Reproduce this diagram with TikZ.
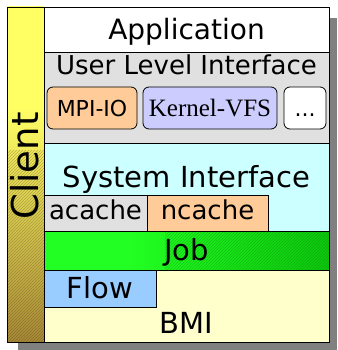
\documentclass[tikz,border=0pt]{standalone}
\usepackage{fontspec}
\setmainfont{DejaVu Sans}
\newfontfamily\kvfsfont{Liberation Serif}
\usetikzlibrary{patterns}

\definecolor{shadowgray}{RGB}{128,128,128}
\definecolor{uligray}{RGB}{224,224,224}
\definecolor{mpiorange}{RGB}{255,204,153}
\definecolor{vfsblue}{RGB}{204,204,255}
\definecolor{syscyan}{RGB}{204,255,255}
\definecolor{flowblue}{RGB}{153,204,255}
\definecolor{bmiyellow}{RGB}{255,255,204}
\definecolor{jobgreen}{RGB}{34,255,34}
\definecolor{jobdark}{RGB}{0,160,0}
\definecolor{clientyellow}{RGB}{255,255,100}
\definecolor{clientbrown}{RGB}{120,75,30}

\pgfdeclareverticalshading{clientfade}{100bp}{color(0bp)=(clientbrown); color(8bp)=(clientbrown); color(35bp)=(clientbrown!45!clientyellow); color(60bp)=(clientyellow); color(100bp)=(clientyellow)}
\pgfdeclarehorizontalshading{jobfade}{100bp}{color(0bp)=(jobgreen); color(40bp)=(jobgreen); color(100bp)=(jobdark)}

\begin{document}
\begin{tikzpicture}[x=1pt,y=-1pt,
	layer/.style={draw=black, line width=0.8pt},
	subbox/.style={draw=black, line width=0.8pt, rounded corners=6pt},
	lbl/.style={inner sep=0pt, anchor=base}]

	\useasboundingbox (0,0) rectangle (337,350);

	% shadow and frame
	\fill[shadowgray] (18,18) rectangle (337,350);
	\fill[white] (7,7) rectangle (329,342);

	% client column
	\shade[shading=clientfade] (7,7) rectangle (44,342);
	\fill[pattern=north east lines, pattern color=clientbrown!60!black, opacity=0.3] (7,150) rectangle (44,342);
	\draw[layer] (7,7) rectangle (44,342);
	\node[lbl, rotate=90, font=\fontsize{37}{37}\selectfont] (client) at (38,166) {Client};

	% application
	\draw[layer, fill=white] (44,7) rectangle (329,52);
	\node[lbl, font=\fontsize{28}{28}\selectfont] (app) at (186.5,40) {Application};

	% user level interface
	\draw[layer, fill=uligray] (44,52) rectangle (329,143);
	\node[lbl, font=\fontsize{26}{26}\selectfont] (uli) at (186.5,75) {User Level Interface};
	\draw[subbox, fill=mpiorange] (47,87) rectangle (137,129);
	\node[lbl, font=\fontsize{22}{22}\selectfont] (mpiio) at (92,117) {MPI-IO};
	\draw[subbox, fill=vfsblue] (143,87) rectangle (277,129);
	\node[lbl, font=\kvfsfont\fontsize{25}{25}\selectfont] (kvfs) at (210,117) {Kernel-VFS};
	\draw[subbox, fill=white] (284,87) rectangle (326,129);
	\node[lbl, font=\fontsize{22}{22}\selectfont] (more) at (305,117) {...};

	% system interface
	\draw[layer, fill=syscyan] (44,143) rectangle (329,231);
	\node[lbl, font=\fontsize{29}{29}\selectfont] (sysint) at (186.5,187) {System Interface};
	\draw[layer, fill=uligray] (44,195) rectangle (147,231);
	\node[lbl, font=\fontsize{26}{26}\selectfont] (acache) at (95.5,219) {acache};
	\draw[layer, fill=mpiorange] (147,195) rectangle (268,231);
	\node[lbl, font=\fontsize{26}{26}\selectfont] (ncache) at (207.5,219) {ncache};

	% job
	\shade[shading=jobfade] (44,231) rectangle (329,270);
	\fill[pattern=north east lines, pattern color=jobdark!60!black, opacity=0.25] (165,231) rectangle (329,270);
	\draw[layer] (44,231) rectangle (329,270);
	\node[lbl, font=\fontsize{29}{29}\selectfont] (job) at (186.5,260) {Job};

	% bmi and flow
	\draw[layer, fill=bmiyellow] (44,270) rectangle (329,342);
	\node[lbl, font=\fontsize{29}{29}\selectfont] (bmi) at (186.5,333) {BMI};
	\draw[layer, fill=flowblue] (44,270) rectangle (156,307);
	\node[lbl, font=\fontsize{29}{29}\selectfont] (flow) at (100,298) {Flow};
\end{tikzpicture}
\end{document}
